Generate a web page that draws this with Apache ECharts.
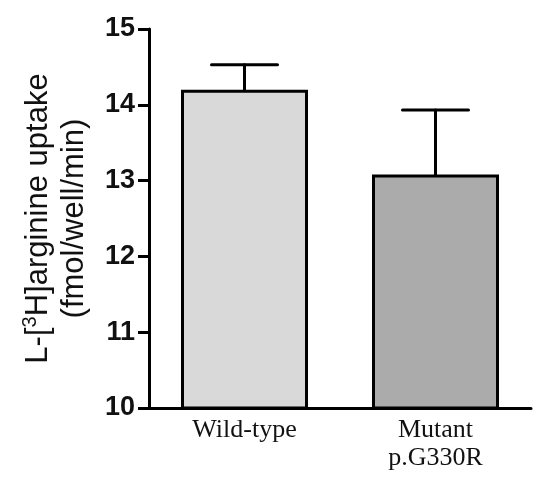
<!DOCTYPE html>
<html>
<head>
<meta charset="utf-8">
<script src="https://cdn.jsdelivr.net/npm/echarts@6/dist/echarts.min.js"></script>
<style>html,body{margin:0;padding:0;background:#fff;}#c{width:540px;height:477px;}</style>
</head>
<body>
<div id="c"></div>
<script>
const categories = ['Wild-type', 'Mutant\np.G330R'];
const means = [14.2, 13.08];
const errUpper = [14.53, 13.93];
const barColors = ['#d9d9d9', '#ababab'];
const yTicks = { min: 10, max: 15, interval: 1 };

const chart = echarts.init(document.getElementById('c'));
chart.setOption({
  backgroundColor: '#ffffff',
  animation: false,
  grid: { left: 149, right: 9, top: 29, bottom: 69 },
  xAxis: {
    type: 'category',
    data: categories,
    axisLine: { lineStyle: { color: '#000', width: 3 } },
    axisTick: { show: false },
    axisLabel: {
      color: '#111', fontFamily: 'Liberation Serif', fontSize: 26,
      lineHeight: 28, margin: 8
    }
  },
  yAxis: {
    type: 'value',
    min: yTicks.min, max: yTicks.max, interval: yTicks.interval,
    splitLine: { show: false },
    axisLine: { show: true, lineStyle: { color: '#000', width: 3 } },
    axisTick: { show: true, length: 11, lineStyle: { color: '#000', width: 3 } },
    axisLabel: {
      color: '#111', fontFamily: 'Liberation Sans', fontWeight: 'bold', fontSize: 27, margin: 14
    },
    name: '{a|L-[}{s|3}{a|H]arginine uptake}\n{a|(fmol/well/min)}',
    nameLocation: 'middle',
    nameRotate: 90,
    nameGap: 57,
    nameTextStyle: {
      fontFamily: 'Liberation Sans',
      fontSize: 31,
      lineHeight: 36,
      color: '#111',
      rich: {
        a: { fontFamily: 'Liberation Sans', fontSize: 31, lineHeight: 36, color: '#111' },
        s: { fontFamily: 'Liberation Sans', fontSize: 20, lineHeight: 36, color: '#111', verticalAlign: 'top', padding: [0, 0, 14, 0] }
      }
    }
  },
  series: [
    {
      type: 'bar',
      barWidth: 127,
      data: means.map((v, i) => ({
        value: v,
        itemStyle: { color: barColors[i], borderColor: '#000', borderWidth: 3 }
      }))
    },
    {
      type: 'custom',
      data: means.map((v, i) => [i, v, errUpper[i]]),
      renderItem: function (params, api) {
        const base = api.coord([api.value(0), api.value(1)]);
        const top = api.coord([api.value(0), api.value(2)]);
        const hw = 33;
        const style = { stroke: '#000', lineWidth: 3, lineCap: 'round' };
        return {
          type: 'group',
          children: [
            { type: 'line', shape: { x1: top[0], y1: base[1], x2: top[0], y2: top[1] }, style: style },
            { type: 'line', shape: { x1: top[0] - hw, y1: top[1], x2: top[0] + hw, y2: top[1] }, style: style }
          ]
        };
      },
      z: 5
    }
  ]
});
</script>
</body>
</html>
